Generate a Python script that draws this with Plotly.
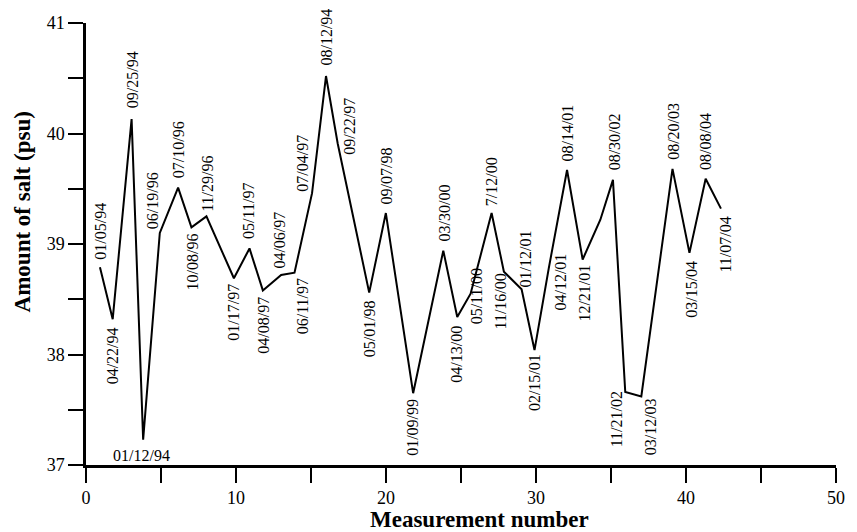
import plotly.graph_objects as go

measurement = [0.93, 1.78, 3.04, 3.81, 4.92, 6.14, 7.03, 8.03, 9.86, 10.90,
               11.79, 13.01, 13.90, 15.07, 16.00, 16.78, 18.88, 19.99, 21.81, 23.82,
               24.75, 25.64, 27.04, 27.86, 29.04, 29.90, 30.85, 32.07, 33.11, 34.29,
               35.13, 35.95, 37.02, 39.10, 40.23, 41.31, 42.33]
salt = [38.79, 38.32, 40.13, 37.23, 39.10, 39.51, 39.15, 39.25, 38.69, 38.96,
        38.58, 38.72, 38.74, 39.46, 40.52, 39.91, 38.56, 39.28, 37.65, 38.94,
        38.34, 38.55, 39.28, 38.75, 38.59, 38.04, 38.78, 39.67, 38.86, 39.22,
        39.58, 37.66, 37.62, 39.68, 38.92, 39.59, 39.32]
dates = ["01/05/94", "04/22/94", "09/25/94", "01/12/94", "06/19/96", "07/10/96",
         "10/08/96", "11/29/96", "01/17/97", "05/11/97", "04/08/97", "04/06/97",
         "06/11/97", "07/04/97", "08/12/94", "09/22/97", "05/01/98", "09/07/98",
         "01/09/99", "03/30/00", "04/13/00", "05/11/00", "7/12/00", "11/16/00",
         "01/12/01", "02/15/01", "04/12/01", "08/14/01", "12/21/01", None,
         "08/30/02", "11/21/02", "03/12/03", "08/20/03", "03/15/04", "08/08/04",
         "11/07/04"]

# tick marks (every 5 on x, every 0.5 on y); only some carry labels
x_tickvals = [0, 5, 10, 15, 20, 25, 30, 35, 40, 45, 50]
x_ticktext = ["0", "", "10", "", "20", "", "30", "", "40", "", "50"]
y_tickvals = [37, 37.5, 38, 38.5, 39, 39.5, 40, 40.5, 41]
y_ticktext = ["37", "", "38", "", "39", "", "40", "", "41"]

x_range = [0, 50]
y_range = [37, 41]

# label placement style: (side, x shift px, gap px)
placement = [("a", 1, 7), ("b", 0, 7), ("a", 1, 10), ("h", -2, 6), ("a", -7, 3),
             ("a", 0, 8), ("b", 1, 5), ("a", 1, 4), ("b", 0, 4), ("a", -1, 8),
             ("b", 1, 5), ("a", -2, 5), ("b", 8, 5), ("a", -9, 0), ("a", 1, 9),
             ("a", 12, -12), ("b", 0, 7), ("a", 1, 8), ("b", 0, 5), ("a", 1, 8),
             ("b", -1, 8), ("b", 6, -26), ("a", 0, 6), ("b", -3, 1), ("a", 4, 1),
             ("b", 0, 3), ("b", 12, -16), ("a", 0, 7), ("b", 2, 4), None,
             ("a", 1, 9), ("b", -9, -2), ("b", 10, 1), ("a", 1, 8), ("b", 2, 7),
             ("a", 0, 8), ("b", 5, 7)]

FONT = "Liberation Serif, Times New Roman, serif"
TICKLEN = 15
W, H = 857, 532
M = dict(l=86, r=19, t=23, b=67)
px_per_x = (W - M["l"] - M["r"]) / (x_range[1] - x_range[0])
px_per_y = (H - M["t"] - M["b"]) / (y_range[1] - y_range[0])

fig = go.Figure(go.Scatter(x=measurement, y=salt, mode="lines",
                           line=dict(color="black", width=2), showlegend=False,
                           hoverinfo="skip"))

# outside tick marks as unclipped line markers just beyond each axis line
half_x = (TICKLEN / 2) / px_per_y
half_y = (TICKLEN / 2) / px_per_x
fig.add_trace(go.Scatter(x=x_tickvals, y=[y_range[0] - half_x] * len(x_tickvals),
                         mode="markers", cliponaxis=False, showlegend=False,
                         hoverinfo="skip",
                         marker=dict(symbol="line-ns-open", size=TICKLEN,
                                     line=dict(color="black", width=2))))
fig.add_trace(go.Scatter(x=[x_range[0] - half_y] * len(y_tickvals), y=y_tickvals,
                         mode="markers", cliponaxis=False, showlegend=False,
                         hoverinfo="skip",
                         marker=dict(symbol="line-ew-open", size=TICKLEN,
                                     line=dict(color="black", width=2))))

annotations = []
for xv, yv, txt, pl in zip(measurement, salt, dates, placement):
    if txt is None or pl is None:
        continue
    side, dx, gap = pl
    if side == "h":
        annotations.append(dict(x=xv, y=yv, xref="x", yref="y", text=txt,
                                showarrow=False, xanchor="center", yanchor="top",
                                xshift=dx, yshift=-gap, borderpad=0,
                                font=dict(family=FONT, size=16, color="black")))
    else:
        annotations.append(dict(x=xv, y=yv, xref="x", yref="y", text=txt,
                                showarrow=False, textangle=-90, xanchor="center",
                                yanchor="bottom" if side == "a" else "top",
                                xshift=dx, yshift=gap if side == "a" else -gap,
                                borderpad=0,
                                font=dict(family=FONT, size=16, color="black")))

annotations.append(dict(text="<b>Measurement number</b>", xref="paper", yref="paper",
                        x=0.525, y=-0.124, xanchor="center", yanchor="middle",
                        showarrow=False, font=dict(family=FONT, size=23, color="black")))
annotations.append(dict(text="<b>Amount of salt (psu)</b>", xref="paper", yref="paper",
                        x=-0.085, y=0.572, xanchor="center", yanchor="middle",
                        textangle=-90, showarrow=False,
                        font=dict(family=FONT, size=23, color="black")))

common = dict(showline=True, linecolor="black", linewidth=2.5, ticks="outside",
              ticklen=TICKLEN, tickwidth=2, tickcolor="black", showgrid=False,
              zeroline=False, tickfont=dict(family=FONT, size=18, color="black"))

fig.update_layout(width=W, height=H, plot_bgcolor="white", paper_bgcolor="white",
                  margin=M,
                  xaxis=dict(range=x_range, tickmode="array", tickvals=x_tickvals,
                             ticktext=x_ticktext, **common),
                  yaxis=dict(range=y_range, tickmode="array", tickvals=y_tickvals,
                             ticktext=y_ticktext, **common),
                  annotations=annotations)
fig.write_html("out.html")
